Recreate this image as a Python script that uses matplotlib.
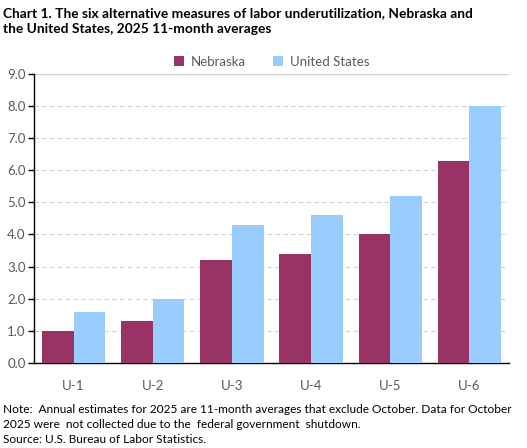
import numpy as np
import matplotlib.pyplot as plt

# data
categories = ['U-1', 'U-2', 'U-3', 'U-4', 'U-5', 'U-6']
nebraska = [1.0, 1.3, 3.2, 3.4, 4.0, 6.3]
united_states = [1.6, 2.0, 4.3, 4.6, 5.2, 8.0]

plt.rcParams['font.family'] = ['Lato', 'DejaVu Sans']
grey = '#595959'

fig = plt.figure(figsize=(5.27, 4.48), dpi=100)
ax = fig.add_axes([0.0645, 0.190, 0.9015, 0.645])

x = np.arange(len(categories))
w = 0.4
ax.bar(x - w / 2, nebraska, w, color='#993366', label='Nebraska', zorder=3)
ax.bar(x + w / 2, united_states, w, color='#99CCFF', label='United States', zorder=3)

ax.set_xlim(-0.5, len(categories) - 0.5)
ax.set_ylim(0, 9)
ax.set_yticks(np.arange(0, 9.1, 1.0))
ax.set_yticklabels(['%.1f' % v for v in np.arange(0, 9.1, 1.0)])
ax.set_xticks(x)
ax.set_xticklabels(categories)
ax.yaxis.grid(True, color='#d0d0d0', linestyle=(0, (4, 3)), linewidth=0.8, zorder=0)
ax.axhline(9, color='#d0d0d0', linewidth=1.0, zorder=1)

for s in ['top', 'right']:
    ax.spines[s].set_visible(False)
for s in ['left', 'bottom']:
    ax.spines[s].set_color('black')
    ax.spines[s].set_linewidth(1.0)

ax.tick_params(axis='y', colors=grey, labelsize=9.5, length=4, width=1, color='black', direction='out', pad=2)
ax.tick_params(axis='x', colors=grey, labelsize=9.5, length=0, pad=12)

fig.text(0.006, 0.984, 'Chart 1. The six alternative measures of labor underutilization, Nebraska and\nthe United States, 2025 11-month averages',
         ha='left', va='top', fontsize=9.9, fontweight='bold', linespacing=1.4)

ax.legend(loc='lower center', bbox_to_anchor=(0.5, 1.003), ncol=2, frameon=False,
          fontsize=9.5, labelcolor=grey, handlelength=0.8, handleheight=0.8,
          handletextpad=0.5, columnspacing=2.0, borderaxespad=0)

fig.text(0.006, 0.098, 'Note:  Annual estimates for 2025 are 11-month averages that exclude October. Data for October\n2025 were  not collected due to the  federal government  shutdown.\nSource: U.S. Bureau of Labor Statistics.',
         ha='left', va='top', fontsize=8.6, linespacing=1.45)

fig.savefig('out.png', dpi=100)
